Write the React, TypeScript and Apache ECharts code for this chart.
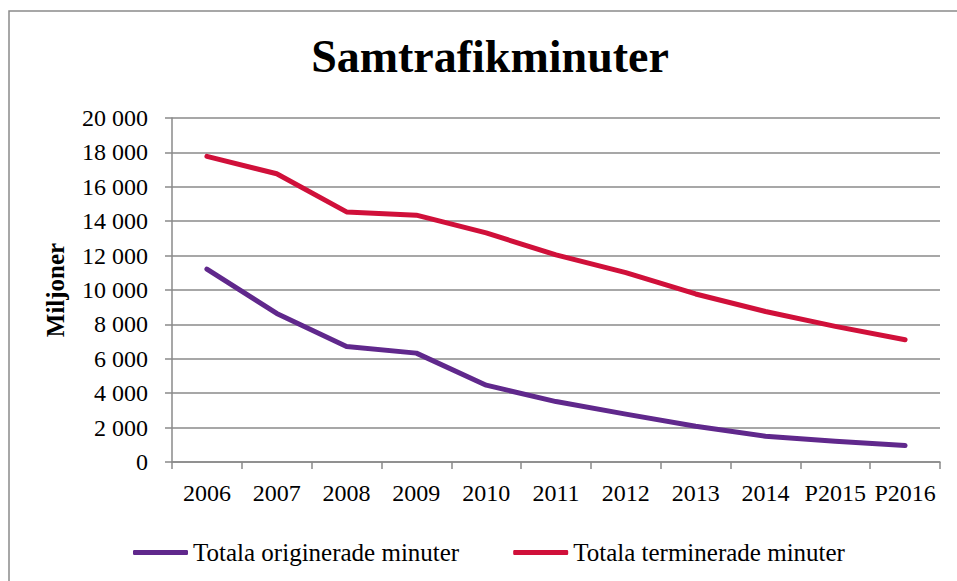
import React, { useEffect, useRef } from "react";
import * as echarts from "echarts";

const categories = ["2006", "2007", "2008", "2009", "2010", "2011", "2012", "2013", "2014", "P2015", "P2016"];
const originerade = [11220, 8640, 6716, 6330, 4466, 3513, 2783, 2075, 1496, 1206, 957];
const terminerade = [17770, 16760, 14540, 14350, 13320, 12040, 11010, 9770, 8750, 7885, 7108];
const seriesNames = ["Totala originerade minuter", "Totala terminerade minuter"];
const titleText = "Samtrafikminuter";
const yAxisName = "Miljoner";

const FONT = "'Liberation Serif', 'Times New Roman', serif";
const GRID = "#8a8a8a";

function fmt(v: number): string {
  return String(v).replace(/\B(?=(\d{3})+(?!\d))/g, " ");
}

export default function App() {
  const ref = useRef<HTMLDivElement>(null);
  useEffect(() => {
    if (!ref.current) return;
    const chart = echarts.init(ref.current, null, { renderer: "svg" });
    chart.setOption({
      animation: false,
      backgroundColor: "#ffffff",
      textStyle: { fontFamily: FONT },
      graphic: [
        {
          type: "rect",
          shape: { x: 9, y: 11, width: 1000, height: 1000 },
          style: { fill: "none", stroke: GRID, lineWidth: 1.5 },
          silent: true,
        },
        {
          type: "text",
          x: 490,
          y: 56,
          style: {
            text: titleText,
            font: `bold 46px ${FONT}`,
            fill: "#000",
            textAlign: "center",
            textVerticalAlign: "middle",
          },
        },
      ],
      grid: { left: 172, right: 17, top: 118, bottom: 119, containLabel: false, outerBoundsMode: "none" },
      legend: {
        left: 128,
        top: 535,
        itemWidth: 55,
        itemHeight: 5,
        itemGap: 54,
        icon: "roundRect",
        textStyle: { fontFamily: FONT, fontSize: 25, color: "#000" },
        data: seriesNames,
      },
      xAxis: {
        type: "category",
        data: categories,
        boundaryGap: true,
        axisLine: { show: true, lineStyle: { color: GRID, width: 1.5 } },
        axisTick: { show: true, length: 7, lineStyle: { color: GRID, width: 1.5 } },
        axisLabel: { fontFamily: FONT, fontSize: 24, color: "#000", margin: 19, interval: 0 },
        splitLine: { show: false },
      },
      yAxis: {
        type: "value",
        min: 0,
        max: 20000,
        interval: 2000,
        name: yAxisName,
        nameLocation: "middle",
        nameRotate: 90,
        nameGap: 104,
        nameTextStyle: { fontFamily: FONT, fontSize: 25, fontWeight: "bold", color: "#000" },
        axisLine: { show: true, lineStyle: { color: GRID, width: 1.5 } },
        axisTick: { show: true, length: 7, lineStyle: { color: GRID, width: 1.5 } },
        axisLabel: { fontFamily: FONT, fontSize: 24, color: "#000", margin: 24, formatter: (v: number) => fmt(v) },
        splitLine: { show: true, lineStyle: { color: GRID, width: 1.5 } },
      },
      series: [
        {
          name: seriesNames[0],
          type: "line",
          data: originerade,
          symbol: "none",
          color: "#60288C",
          lineStyle: { width: 5, color: "#60288C", cap: "round", join: "round" },
        },
        {
          name: seriesNames[1],
          type: "line",
          data: terminerade,
          symbol: "none",
          color: "#D0103A",
          lineStyle: { width: 5, color: "#D0103A", cap: "round", join: "round" },
        },
      ],
    });
    return () => chart.dispose();
  }, []);
  return <div ref={ref} style={{ position: "absolute", left: 0, top: 0, width: 957, height: 581 }} />;
}
